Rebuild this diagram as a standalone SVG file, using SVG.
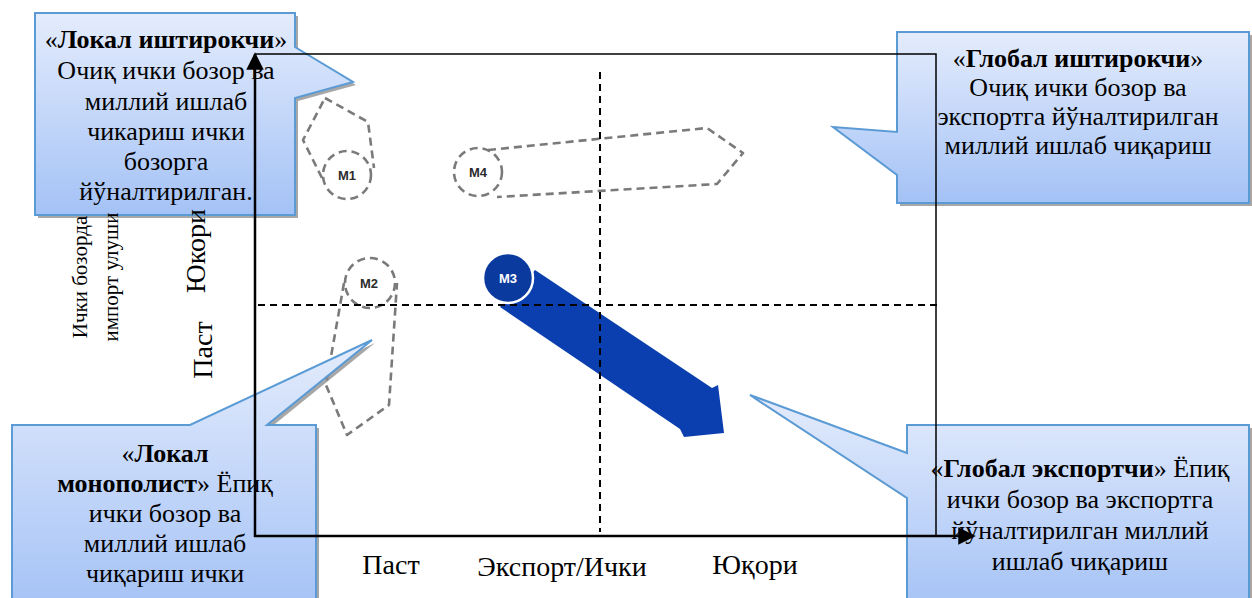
<svg xmlns="http://www.w3.org/2000/svg" width="1252" height="598" viewBox="0 0 1252 598">
<defs>
<linearGradient id="cg" x1="0" y1="0" x2="0" y2="1">
<stop offset="0" stop-color="#e4ecfc"/>
<stop offset="1" stop-color="#a4c2f6"/>
</linearGradient>
<marker id="ah2" viewBox="0 0 10 10" refX="9" refY="5" markerWidth="8" markerHeight="7" orient="auto" markerUnits="strokeWidth">
<path d="M0,0 L10,5 L0,10 Z" fill="#000"/>
</marker>
</defs>
<style>
.cb{fill:url(#cg);stroke:#5b9bd5;stroke-width:2}
.sh{fill:#8a8a8a;opacity:0.75}
.ct{font-family:"Liberation Serif","Times New Roman",serif;font-size:26px;fill:#000;text-anchor:middle}
.ax{font-family:"Liberation Serif","Times New Roman",serif;font-size:28px;fill:#000;text-anchor:middle}
.sm{font-family:"Liberation Serif","Times New Roman",serif;font-size:21px;fill:#000;text-anchor:middle}
.b{font-weight:bold}
.md{fill:none;stroke:#7a7a7a;stroke-width:2.6;stroke-dasharray:8 5;stroke-linejoin:round}
.ml{font-family:"Liberation Sans",Arial,sans-serif;font-size:13px;font-weight:bold;fill:#2b2b2b;text-anchor:middle}
.dl{stroke:#000;stroke-width:2;stroke-dasharray:7 5;fill:none}
</style>

<!-- M shapes -->
<g id="m1">
<path class="md" d="M325,98 L368,122 L374,168 M322,178 L303,140 L325,98"/>
<circle class="md" cx="347" cy="175" r="24"/>
<text class="ml" x="347" y="180">M1</text>
</g>
<g id="m4">
<path class="md" d="M488,150 L707,128 L743,153 L717,184 L497,197"/>
<circle class="md" cx="478" cy="172" r="24"/>
<text class="ml" x="478" y="177">M4</text>
</g>
<g id="m2">
<path class="md" d="M344,283 L326,385 L347,435 L389,405 L397,283"/>
<circle class="md" cx="370" cy="283" r="25"/>
<text class="ml" x="369" y="288">M2</text>
</g>
<g id="m3">
<path d="M535,270 L712,388 L718,385 L724,433 L684,437 L680,429 L500,307 Z" fill="#0b3fb0"/>
<circle cx="508" cy="278" r="25" fill="#0a3a9e" stroke="#ffffff" stroke-width="2.5"/>
<text class="ml" x="508" y="283" style="fill:#fff">M3</text>
</g>

<!-- callouts -->
<g id="callout-local-participant">
<path class="sh" d="M38,16 H298 V50 L356,85 L298,101 V218 H38 Z"/>
<path class="cb" d="M35,13 H295 V47 L353,82 L295,98 V215 H35 Z"/>
<text class="ct" x="166" y="48">«<tspan class="b">Локал иштирокчи</tspan>»</text>
<text class="ct" x="166" y="79">Очиқ ички бозор ва</text>
<text class="ct" x="166" y="110">миллий ишлаб</text>
<text class="ct" x="166" y="140">чикариш  ички</text>
<text class="ct" x="166" y="170">бозорга</text>
<text class="ct" x="166" y="200">йўналтирилган.</text>
</g>
<g id="callout-global-participant">
<path class="sh" d="M900,35 H1252 V206 H900 V178 L836,130 L900,135 Z"/>
<path class="cb" d="M897,32 H1249 V203 H897 V175 L833,127 L897,132 Z"/>
<text class="ct" x="1078" y="67">«<tspan class="b">Глобал иштирокчи</tspan>»</text>
<text class="ct" x="1078" y="96">Очиқ ички бозор ва</text>
<text class="ct" x="1078" y="125">экспортга йўналтирилган</text>
<text class="ct" x="1078" y="154">миллий ишлаб чиқариш</text>
</g>
<g id="callout-local-monopolist">
<path class="sh" d="M15,428 H193 L375,343 L270,428 H319 V612 H15 Z"/>
<path class="cb" d="M12,425 H190 L372,340 L267,425 H316 V612 H12 Z"/>
<text class="ct" x="165" y="462">«<tspan class="b">Локал</tspan></text>
<text class="ct" x="165" y="492"><tspan class="b">монополист</tspan>» Ёпиқ</text>
<text class="ct" x="165" y="522">ички бозор ва</text>
<text class="ct" x="165" y="552">миллий ишлаб</text>
<text class="ct" x="165" y="582">чиқариш ички</text>
</g>
<g id="callout-global-exporter">
<path class="sh" d="M910,428 H1252 V612 H910 V501 L753,398 L910,456 Z"/>
<path class="cb" d="M907,425 H1249 V612 H907 V498 L750,395 L907,453 Z"/>
<text class="ct" x="1080" y="477">«<tspan class="b">Глобал экспортчи</tspan>» Ёпиқ</text>
<text class="ct" x="1080" y="508">ички бозор ва экспортга</text>
<text class="ct" x="1080" y="539">йўналтирилган миллий</text>
<text class="ct" x="1080" y="570">ишлаб чиқариш</text>
</g>

<!-- connectors / axes -->
<g id="connectors">
<line class="dl" x1="258" y1="305" x2="937" y2="305"/>
<line class="dl" x1="600" y1="72" x2="600" y2="532"/>
<polyline points="255,54 936,54 936,536" fill="none" stroke="#000" stroke-width="1.5"/>
<line x1="255" y1="537" x2="255" y2="54" stroke="#000" stroke-width="2.5" marker-end="url(#ah2)"/>
<line x1="254" y1="536" x2="974" y2="536" stroke="#000" stroke-width="2.5" marker-end="url(#ah2)"/>
</g>

<!-- axis labels -->
<g id="labels">
<text class="ax" x="391" y="574">Паст</text>
<text class="ax" x="562" y="576">Экспорт/Ички</text>
<text class="ax" x="755" y="574">Юқори</text>
<text class="ax" transform="translate(205,251) rotate(-90)">Юкори</text>
<text class="ax" transform="translate(212,350) rotate(-90)">Паст</text>
<text class="sm" transform="translate(87,277) rotate(-90)">Ички бозорда</text>
<text class="sm" transform="translate(118,277) rotate(-90)">импорт улуши</text>
</g>
</svg>
